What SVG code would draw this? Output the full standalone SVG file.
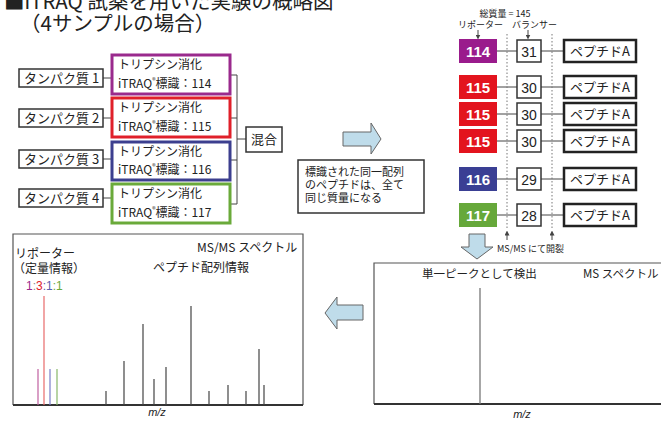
<svg xmlns="http://www.w3.org/2000/svg" width="661" height="421" viewBox="0 0 661 421">
<style>
text{font-family:"Liberation Sans","Noto Sans CJK JP",sans-serif;fill:#222}
.jp{font-family:"Noto Sans CJK JP","Liberation Sans",sans-serif}
.box{fill:#fff;stroke:#333;stroke-width:1.5}
.cbox{fill:#fff;stroke-width:3}
.ln{stroke:#444;stroke-width:1;fill:none}
.arrow{fill:#bfdcea;stroke:#666;stroke-width:1}
.rep{font-size:15px;font-weight:bold;fill:#fff;text-anchor:middle}
.bal{fill:#fff;stroke:#333;stroke-width:1.5}
.pep{fill:#fff;stroke:#222;stroke-width:2.5}
.dot{stroke:#777;stroke-width:1;stroke-dasharray:1.5 2;fill:none}
.pk{stroke:#444;stroke-width:1.2}
.t12{font-size:12px}
.t13{font-size:13px}
</style>
<defs>
<marker id="ah" viewBox="0 0 6 6" refX="3" refY="3" markerWidth="5" markerHeight="5" orient="auto-start-reverse">
<path d="M0,0 L6,3 L0,6 z" fill="#444"/>
</marker>
</defs>

<g id="title" class="jp">
<text x="4" y="9" font-size="20.5" class="jp">■iTRAQ<tspan font-size="10" dy="-9">®</tspan><tspan dy="9">試薬を用いた実験の概略図</tspan></text>
<text x="20" y="31" font-size="20.5" class="jp">（4サンプルの場合）</text>
</g>

<g id="connectors">
<line class="ln" x1="103" y1="78" x2="112" y2="78"/>
<line class="ln" x1="103" y1="118" x2="112" y2="118"/>
<line class="ln" x1="103" y1="159" x2="112" y2="159"/>
<line class="ln" x1="103" y1="198" x2="112" y2="198"/>
<line class="ln" x1="230" y1="75" x2="237" y2="75"/>
<line class="ln" x1="230" y1="118" x2="237" y2="118"/>
<line class="ln" x1="230" y1="160" x2="237" y2="160"/>
<line class="ln" x1="230" y1="204" x2="237" y2="204"/>
<line class="ln" x1="237" y1="75" x2="237" y2="204"/>
<line class="ln" x1="237" y1="139" x2="246" y2="139"/>
<line class="ln" x1="497" y1="51" x2="517" y2="51"/>
<line class="ln" x1="541" y1="51" x2="564" y2="51"/>
<line class="ln" x1="497" y1="87" x2="517" y2="87"/>
<line class="ln" x1="541" y1="87" x2="564" y2="87"/>
<line class="ln" x1="497" y1="114" x2="517" y2="114"/>
<line class="ln" x1="541" y1="114" x2="564" y2="114"/>
<line class="ln" x1="497" y1="141" x2="517" y2="141"/>
<line class="ln" x1="541" y1="141" x2="564" y2="141"/>
<line class="ln" x1="497" y1="179" x2="517" y2="179"/>
<line class="ln" x1="541" y1="179" x2="564" y2="179"/>
<line class="ln" x1="497" y1="215" x2="517" y2="215"/>
<line class="ln" x1="541" y1="215" x2="564" y2="215"/>
<line class="dot" x1="507" y1="34" x2="507" y2="228"/>
<line class="dot" x1="552" y1="34" x2="552" y2="228"/>
<line class="ln" x1="507" y1="240" x2="507" y2="233" marker-end="url(#ah)"/>
<line class="ln" x1="552" y1="240" x2="552" y2="233" marker-end="url(#ah)"/>
<line class="ln" x1="478" y1="30" x2="478" y2="37" marker-end="url(#ah)"/>
<line class="ln" x1="528" y1="30" x2="528" y2="37" marker-end="url(#ah)"/>
</g>

<g id="protein1"><rect class="box" x="19" y="69" width="84" height="18"/><text class="t13 jp" x="24" y="83">タンパク質 1</text></g>
<g id="protein2"><rect class="box" x="19" y="109" width="84" height="18"/><text class="t13 jp" x="24" y="123">タンパク質 2</text></g>
<g id="protein3"><rect class="box" x="19" y="150" width="84" height="18"/><text class="t13 jp" x="24" y="164">タンパク質 3</text></g>
<g id="protein4"><rect class="box" x="19" y="189" width="84" height="18"/><text class="t13 jp" x="24" y="203">タンパク質 4</text></g>

<g id="label114"><rect class="cbox" x="112" y="55" width="118" height="39" stroke="#9a2a8d"/>
<text class="t12 jp" x="118" y="69">トリプシン消化</text>
<text class="t12 jp" x="118" y="88">iTRAQ<tspan font-size="7" dy="-5">®</tspan><tspan dy="5">標識：114</tspan></text></g>
<g id="label115"><rect class="cbox" x="112" y="98" width="118" height="39" stroke="#e0202a"/>
<text class="t12 jp" x="118" y="112">トリプシン消化</text>
<text class="t12 jp" x="118" y="131">iTRAQ<tspan font-size="7" dy="-5">®</tspan><tspan dy="5">標識：115</tspan></text></g>
<g id="label116"><rect class="cbox" x="112" y="142" width="118" height="38" stroke="#3c3f8f"/>
<text class="t12 jp" x="118" y="156">トリプシン消化</text>
<text class="t12 jp" x="118" y="174">iTRAQ<tspan font-size="7" dy="-5">®</tspan><tspan dy="5">標識：116</tspan></text></g>
<g id="label117"><rect class="cbox" x="112" y="184" width="118" height="39" stroke="#6aaa3a"/>
<text class="t12 jp" x="118" y="198">トリプシン消化</text>
<text class="t12 jp" x="118" y="217">iTRAQ<tspan font-size="7" dy="-5">®</tspan><tspan dy="5">標識：117</tspan></text></g>

<g id="mix"><rect class="box" x="246" y="127" width="36" height="25"/><text class="t13 jp" x="264" y="144" text-anchor="middle">混合</text></g>

<g id="arrowRight"><polygon class="arrow" points="343,132 371,132 371,123 381,139 371,154 371,146 343,146"/></g>

<g id="note"><rect class="box" x="298" y="160" width="126" height="53"/>
<text class="jp" font-size="11" x="305" y="176">標識された同一配列</text>
<text class="jp" font-size="11" x="305" y="189">のペプチドは、全て</text>
<text class="jp" font-size="11" x="305" y="202">同じ質量になる</text></g>

<g id="massLabels" class="jp">
<text class="jp" font-size="9" x="505" y="17" text-anchor="middle">総質量 = 145</text>
<text class="jp" font-size="9" x="458" y="28">リポーター</text>
<text class="jp" font-size="9" x="512" y="28">バランサー</text>
</g>

<g id="row114"><rect x="459" y="39" width="38" height="24" fill="#9a1b8c"/><text class="rep" x="478" y="57">114</text>
<rect class="bal" x="517" y="40" width="24" height="22"/><text x="529" y="57" font-size="14" text-anchor="middle">31</text>
<rect class="pep" x="564" y="40" width="72" height="22"/><text class="jp" x="600" y="56" font-size="13" text-anchor="middle">ペプチドA</text></g>
<g id="row115a"><rect x="459" y="75" width="38" height="24" fill="#e3141e"/><text class="rep" x="478" y="93">115</text>
<rect class="bal" x="517" y="76" width="24" height="22"/><text x="529" y="93" font-size="14" text-anchor="middle">30</text>
<rect class="pep" x="564" y="76" width="72" height="22"/><text class="jp" x="600" y="92" font-size="13" text-anchor="middle">ペプチドA</text></g>
<g id="row115b"><rect x="459" y="102" width="38" height="24" fill="#e3141e"/><text class="rep" x="478" y="120">115</text>
<rect class="bal" x="517" y="103" width="24" height="22"/><text x="529" y="120" font-size="14" text-anchor="middle">30</text>
<rect class="pep" x="564" y="103" width="72" height="22"/><text class="jp" x="600" y="119" font-size="13" text-anchor="middle">ペプチドA</text></g>
<g id="row115c"><rect x="459" y="129" width="38" height="24" fill="#e3141e"/><text class="rep" x="478" y="147">115</text>
<rect class="bal" x="517" y="130" width="24" height="22"/><text x="529" y="147" font-size="14" text-anchor="middle">30</text>
<rect class="pep" x="564" y="130" width="72" height="22"/><text class="jp" x="600" y="146" font-size="13" text-anchor="middle">ペプチドA</text></g>
<g id="row116"><rect x="459" y="167" width="38" height="24" fill="#3a3f94"/><text class="rep" x="478" y="185">116</text>
<rect class="bal" x="517" y="168" width="24" height="22"/><text x="529" y="185" font-size="14" text-anchor="middle">29</text>
<rect class="pep" x="564" y="168" width="72" height="22"/><text class="jp" x="600" y="184" font-size="13" text-anchor="middle">ペプチドA</text></g>
<g id="row117"><rect x="459" y="203" width="38" height="24" fill="#66a83a"/><text class="rep" x="478" y="221">117</text>
<rect class="bal" x="517" y="204" width="24" height="22"/><text x="529" y="221" font-size="14" text-anchor="middle">28</text>
<rect class="pep" x="564" y="204" width="72" height="22"/><text class="jp" x="600" y="220" font-size="13" text-anchor="middle">ペプチドA</text></g>

<g id="cleave"><text class="jp" font-size="9" x="497" y="252">MS/MS にて開裂</text></g>

<g id="arrowDown"><polygon class="arrow" points="469,234 485,234 485,247 493,247 477,259 461,247 469,247"/></g>

<g id="msSpectrum">
<path d="M661,263 L374,263 L374,404" fill="none" stroke="#555" stroke-width="1.2"/>
<line x1="374" y1="404" x2="661" y2="404" stroke="#333" stroke-width="2"/>
<text class="jp" font-size="11.5" x="422" y="278">単一ピークとして検出</text>
<text class="jp" font-size="11.5" x="583" y="278">MS スペクトル</text>
<line x1="480" y1="288" x2="480" y2="404" stroke="#777" stroke-width="1.3"/>
<text x="522" y="418" font-size="11" font-style="italic" text-anchor="middle">m/z</text>
</g>

<g id="arrowLeft"><polygon class="arrow" points="363,305 337,305 337,297 325,313 337,329 337,320 363,320"/></g>

<g id="msmsSpectrum">
<path d="M13,405 L13,234 L303,234 L303,405" fill="none" stroke="#555" stroke-width="1.2"/>
<line x1="13" y1="405" x2="303" y2="405" stroke="#333" stroke-width="2"/>
<text class="jp t12" x="197" y="252">MS/MS スペクトル</text>
<text class="jp t12" x="15" y="258">リポーター</text>
<text class="jp t12" x="13" y="273">（定量情報）</text>
<text class="jp t12" x="153" y="272">ペプチド配列情報</text>
<text x="26" y="290" font-size="12"><tspan fill="#9a2a8d">1</tspan><tspan fill="#888">:</tspan><tspan fill="#e0202a">3</tspan><tspan fill="#5a5db0">:1</tspan><tspan fill="#6aaa3a">:1</tspan></text>
<line x1="38" y1="405" x2="38" y2="369" stroke="#c060a0" stroke-width="1.2"/>
<line x1="44" y1="405" x2="44" y2="296" stroke="#e86a6a" stroke-width="1.2"/>
<line x1="50" y1="405" x2="50" y2="369" stroke="#7a7cc8" stroke-width="1.2"/>
<line x1="57" y1="405" x2="57" y2="369" stroke="#88b868" stroke-width="1.2"/>
<line class="pk" x1="106" y1="405" x2="106" y2="391"/>
<line class="pk" x1="124" y1="405" x2="124" y2="361"/>
<line class="pk" x1="143" y1="405" x2="143" y2="324"/>
<line class="pk" x1="154" y1="405" x2="154" y2="379"/>
<line class="pk" x1="166" y1="405" x2="166" y2="367"/>
<line class="pk" x1="191" y1="405" x2="191" y2="306"/>
<line class="pk" x1="209" y1="405" x2="209" y2="391"/>
<line class="pk" x1="228" y1="405" x2="228" y2="385"/>
<line class="pk" x1="246" y1="405" x2="246" y2="391"/>
<line class="pk" x1="259" y1="405" x2="259" y2="349"/>
<line class="pk" x1="264" y1="405" x2="264" y2="385"/>
<text x="157" y="416" font-size="11" font-style="italic" text-anchor="middle">m/z</text>
</g>
</svg>
